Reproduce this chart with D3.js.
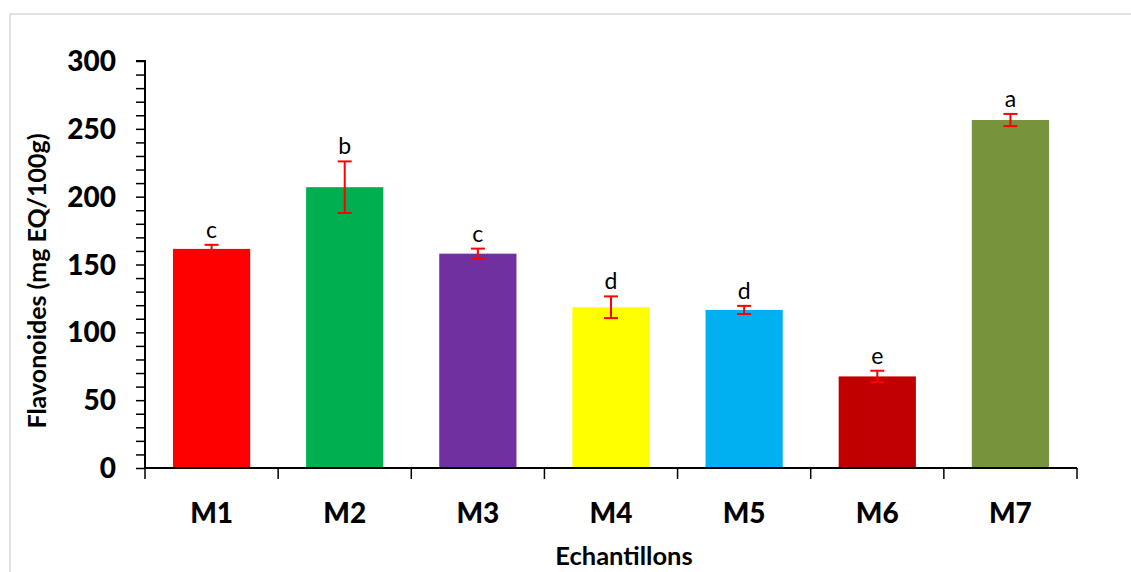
<!DOCTYPE html>
<html><head><meta charset="utf-8">
<script src="https://cdn.jsdelivr.net/npm/d3@7"></script>
<style>body{margin:0;background:#fff}svg{display:block}</style>
</head><body>
<svg id="c" width="1131" height="572"></svg>
<script>
const categories = ["M1","M2","M3","M4","M5","M6","M7"];
const values = [161.5, 207, 158, 118.5, 116.5, 67.5, 256.5];
const errors = [3, 19, 3.7, 8, 3, 4.2, 4.5];
const letters = ["c","b","c","d","d","e","a"];
const colors = ["#ff0000","#00b050","#7030a0","#ffff00","#00b0f0","#c00000","#77933c"];
const yTicks = [0,50,100,150,200,250,300];

const svg = d3.select("#c");
const font = "Lato, 'Open Sans', sans-serif";
svg.append("rect").attr("x",10).attr("y",14).attr("width",1131).attr("height",600)
  .attr("fill","none").attr("stroke","#d9d9d9").attr("stroke-width",1.5);

const x0 = 145, x1 = 1077, yTop = 61, yBot = 468;
const x = d3.scaleBand().domain(categories).range([x0,x1]).paddingInner(0.42).paddingOuter(0.21);
const xc = d3.scaleBand().domain(categories).range([x0,x1]);
const y = d3.scaleLinear().domain([0,300]).range([yBot,yTop]);

// bars
svg.selectAll(".bar").data(categories).enter().append("rect")
  .attr("x",d=>x(d)).attr("width",x.bandwidth())
  .attr("y",(d,i)=>y(values[i])).attr("height",(d,i)=>yBot-y(values[i]))
  .attr("fill",(d,i)=>colors[i]);

// error bars
const eb = svg.append("g").attr("stroke","#ff0000").attr("stroke-width",2);
categories.forEach((c,i)=>{
  const cx = x(c)+x.bandwidth()/2;
  const hi = y(values[i]+errors[i]), lo = y(values[i]-errors[i]);
  eb.append("line").attr("x1",cx).attr("x2",cx).attr("y1",hi).attr("y2",lo);
  eb.append("line").attr("x1",cx-7).attr("x2",cx+7).attr("y1",hi).attr("y2",hi);
  eb.append("line").attr("x1",cx-7).attr("x2",cx+7).attr("y1",lo).attr("y2",lo);
  svg.append("text").attr("x",cx).attr("y",hi-7).attr("text-anchor","middle")
    .attr("font-family",font).attr("font-size",23).attr("fill","#000").text(letters[i]);
});

// y axis
const yAxis = d3.axisLeft(y).tickValues(d3.range(0,301,10)).tickSize(9).tickFormat("");
const gy = svg.append("g").attr("transform",`translate(${x0},0)`).call(yAxis);
gy.select(".domain").attr("stroke","#000").attr("stroke-width",2).attr("d",`M-9,${yTop}H0V${yBot}`);
gy.selectAll(".tick line").attr("stroke","#000").attr("stroke-width",1.5);
svg.append("g").selectAll("text").data(yTicks).enter().append("text")
  .attr("x",116).attr("y",d=>y(d)).attr("dy","0.36em").attr("text-anchor","end")
  .attr("font-family",font).attr("font-weight","900").attr("font-size",28).attr("fill","#000").text(d=>d);

// x axis
const xAxis = d3.axisBottom(xc).tickSize(0).tickFormat("");
const gx = svg.append("g").attr("transform",`translate(0,${yBot})`).call(xAxis);
gx.select(".domain").attr("stroke","#000").attr("stroke-width",2).attr("d",`M${x0},0H${x1}`);
gx.selectAll(".tick").remove();
const bounds = categories.map(c=>xc(c)).concat([x1]);
gx.selectAll(".sep").data(bounds).enter().append("line")
  .attr("x1",d=>d).attr("x2",d=>d).attr("y1",0).attr("y2",11)
  .attr("stroke","#000").attr("stroke-width",1.5);
svg.append("g").selectAll("text").data(categories).enter().append("text")
  .attr("x",d=>xc(d)+xc.bandwidth()/2).attr("y",523).attr("text-anchor","middle")
  .attr("font-family",font).attr("font-weight","900").attr("font-size",28).attr("fill","#000").text(d=>d);

// titles
svg.append("text").attr("transform","translate(46,281) rotate(-90)").attr("text-anchor","middle")
  .attr("font-family",font).attr("font-weight","bold").attr("font-size",25).attr("fill","#000")
  .text("Flavonoides (mg EQ/100g)");
svg.append("text").attr("x",624).attr("y",565).attr("text-anchor","middle")
  .attr("font-family",font).attr("font-weight","bold").attr("font-size",25.5).attr("fill","#000")
  .text("Echantillons");
</script>
</body></html>
